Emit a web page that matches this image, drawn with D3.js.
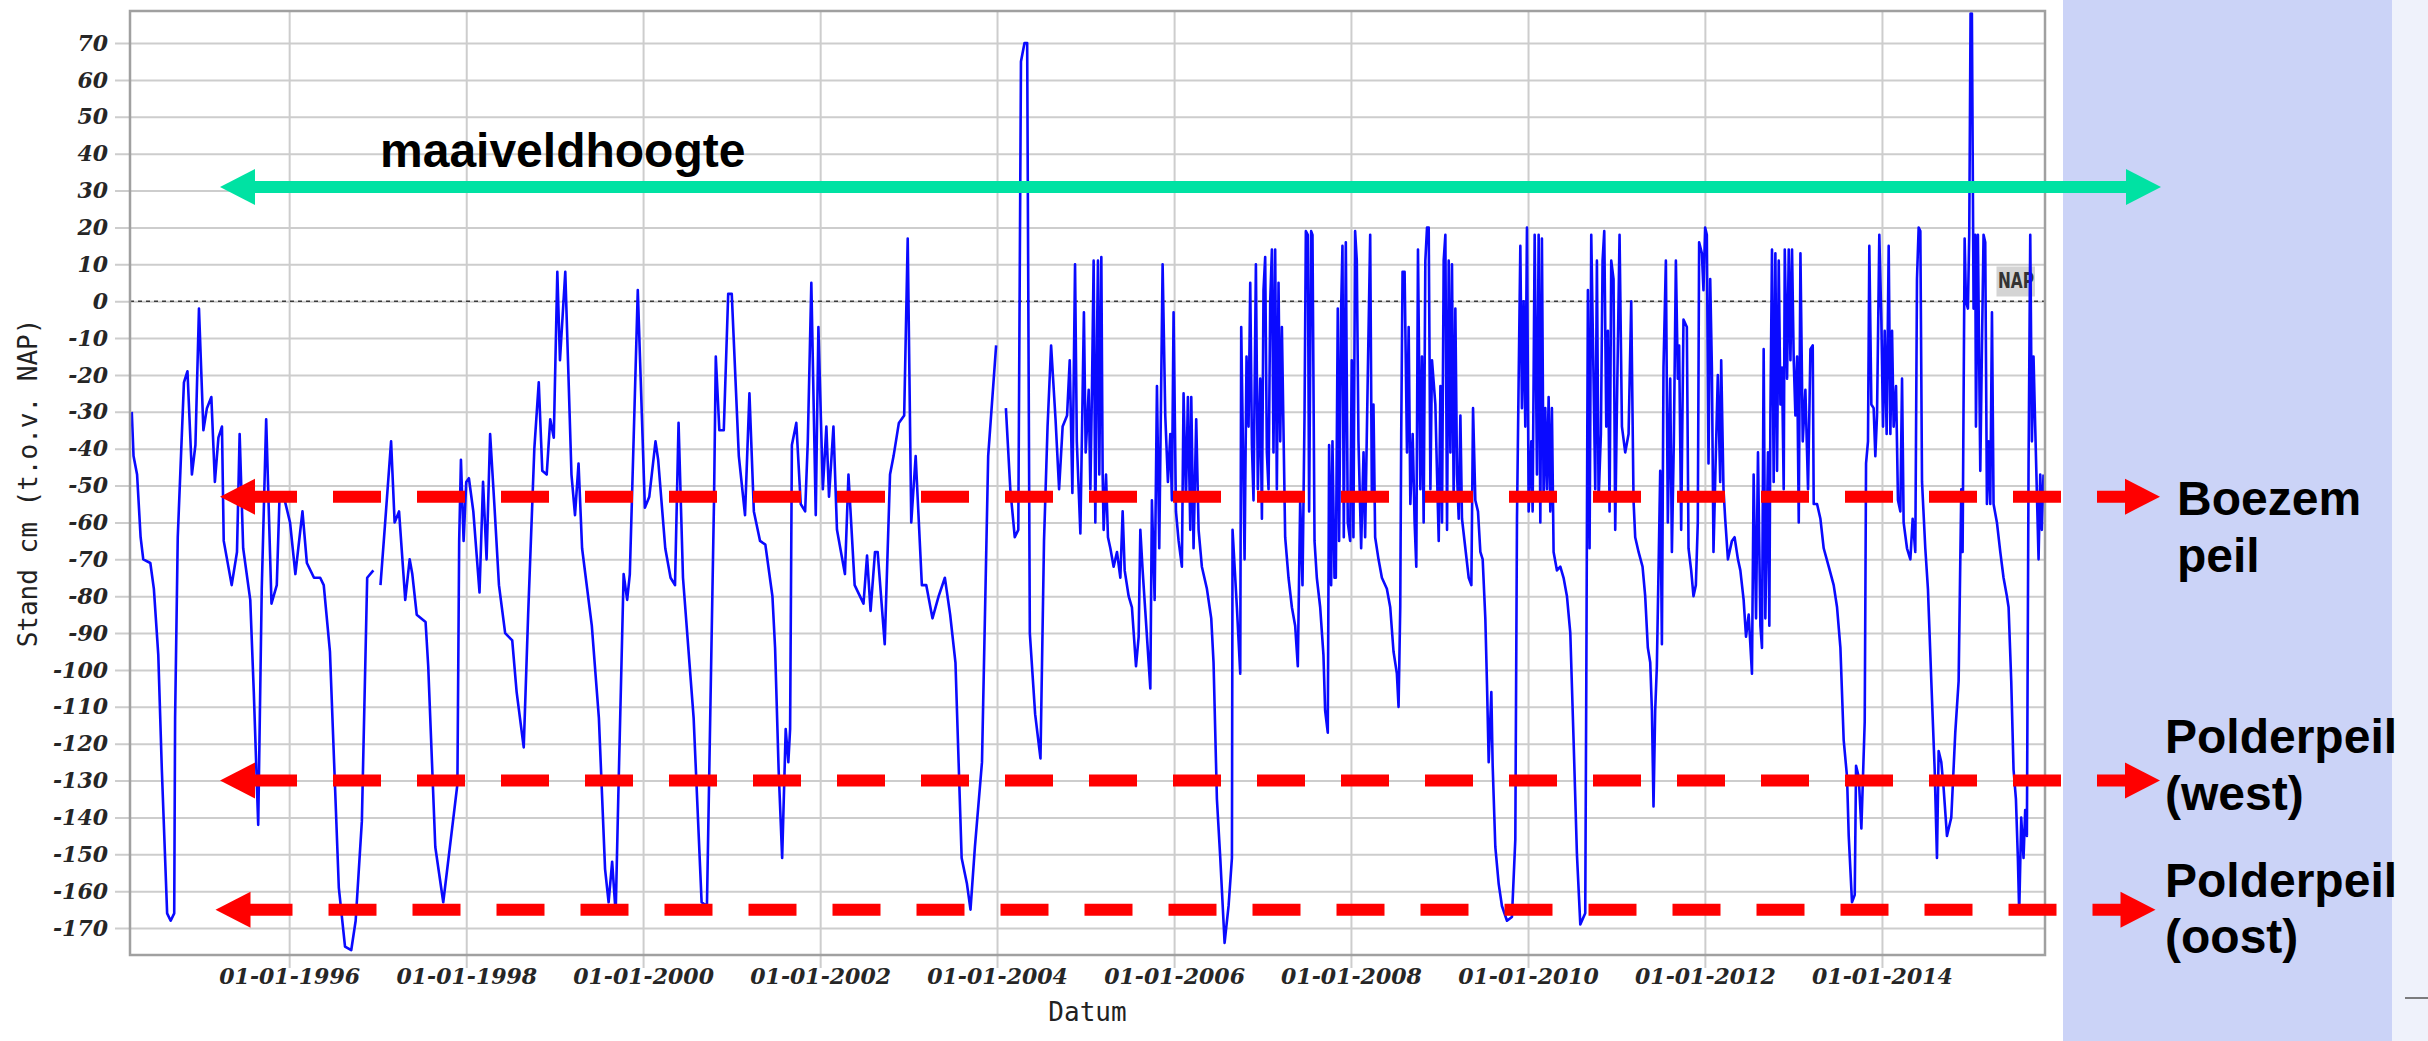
<!DOCTYPE html>
<html>
<head>
<meta charset="utf-8">
<title>Stand cm (t.o.v. NAP)</title>
<script src="https://cdn.jsdelivr.net/npm/d3@7"></script>
<style>
  html, body { margin: 0; padding: 0; background: #ffffff; }
  svg { display: block; }
</style>
</head>
<body>
<svg id="chart" width="2428" height="1041"></svg>
<script>
// Measurement moments as decimal years, and the measured level (cm t.o.v. NAP).
// A null level marks a gap in the record.
const years = [
  1994.22,1994.24,1994.28,1994.32,1994.35,1994.43,1994.47,1994.52,1994.56,1994.62,
  1994.66,1994.70,1994.71,1994.74,1994.77,1994.81,1994.85,1994.90,1994.94,1994.98,
  1995.03,1995.07,1995.12,1995.16,1995.20,1995.24,1995.26,1995.35,1995.41,1995.44,
  1995.48,1995.56,1995.60,1995.65,1995.69,1995.74,1995.80,1995.86,1995.89,1995.95,
  1996.01,1996.07,1996.15,1996.20,1996.28,1996.35,1996.39,1996.46,1996.56,1996.63,
  1996.70,1996.75,1996.82,1996.88,1996.95,1996.99,1997.03,1997.08,1997.15,1997.19,
  1997.24,1997.31,1997.36,1997.39,1997.44,1997.54,1997.57,1997.65,1997.74,1997.83,
  1997.90,1997.92,1997.94,1997.97,1998.00,1998.03,1998.08,1998.15,1998.19,1998.23,
  1998.27,1998.32,1998.37,1998.44,1998.52,1998.57,1998.65,1998.70,1998.77,1998.82,
  1998.86,1998.91,1998.95,1998.99,1999.03,1999.06,1999.12,1999.19,1999.23,1999.27,
  1999.31,1999.42,1999.50,1999.57,1999.61,1999.65,1999.69,1999.72,1999.78,1999.82,
  1999.85,1999.89,1999.94,2000.02,2000.07,2000.14,2000.17,2000.25,2000.31,2000.36,
  2000.40,2000.45,2000.57,2000.66,2000.72,2000.80,2000.82,2000.86,2000.91,2000.96,
  2001.00,2001.08,2001.15,2001.20,2001.25,2001.32,2001.38,2001.46,2001.49,2001.53,
  2001.57,2001.60,2001.61,2001.64,2001.66,2001.68,2001.73,2001.78,2001.83,2001.86,
  2001.90,2001.95,2001.98,2002.03,2002.07,2002.10,2002.15,2002.19,2002.28,2002.32,
  2002.39,2002.49,2002.53,2002.57,2002.62,2002.65,2002.73,2002.79,2002.83,2002.89,
  2002.95,2002.99,2003.03,2003.08,2003.15,2003.20,2003.27,2003.34,2003.41,2003.47,
  2003.53,2003.60,2003.66,2003.70,2003.75,2003.83,2003.90,2003.99,2004.05,2004.10,
  2004.15,2004.20,2004.24,2004.27,2004.31,2004.34,2004.37,2004.43,2004.49,2004.53,
  2004.57,2004.61,2004.66,2004.70,2004.74,2004.79,2004.82,2004.85,2004.88,2004.90,
  2004.94,2004.98,2005.00,2005.015,2005.034,2005.053,2005.071,2005.090,2005.109,2005.128,
  2005.139,2005.154,2005.177,2005.192,2005.203,2005.230,2005.252,2005.279,2005.316,2005.354,
  2005.392,2005.418,2005.441,2005.486,2005.523,2005.569,2005.599,2005.618,2005.644,2005.674,
  2005.731,2005.749,2005.780,2005.806,2005.832,2005.870,2005.900,2005.930,2005.957,2005.975,
  2005.994,2006.021,2006.051,2006.088,2006.107,2006.134,2006.156,2006.183,2006.194,2006.220,
  2006.250,2006.277,2006.314,2006.371,2006.420,2006.446,2006.484,2006.522,2006.571,2006.616,
  2006.654,2006.661,2006.710,2006.748,2006.759,2006.797,2006.819,2006.842,2006.861,2006.880,
  2006.898,2006.925,2006.947,2006.974,2006.993,2007.011,2007.030,2007.049,2007.068,2007.087,
  2007.106,2007.124,2007.143,2007.162,2007.181,2007.200,2007.219,2007.256,2007.294,2007.332,
  2007.369,2007.399,2007.426,2007.452,2007.475,2007.490,2007.512,2007.527,2007.550,2007.565,
  2007.588,2007.614,2007.652,2007.689,2007.708,2007.738,2007.753,2007.776,2007.791,2007.814,
  2007.829,2007.851,2007.866,2007.889,2007.904,2007.919,2007.942,2007.964,2007.991,2008.009,
  2008.028,2008.047,2008.066,2008.085,2008.115,2008.142,2008.160,2008.190,2008.217,2008.236,
  2008.254,2008.273,2008.311,2008.349,2008.405,2008.443,2008.480,2008.518,2008.537,2008.556,
  2008.567,2008.582,2008.605,2008.632,2008.651,2008.670,2008.696,2008.718,2008.737,2008.756,
  2008.783,2008.801,2008.820,2008.839,2008.858,2008.877,2008.896,2008.914,2008.952,2008.971,
  2008.990,2009.009,2009.027,2009.046,2009.065,2009.084,2009.103,2009.122,2009.140,2009.159,
  2009.178,2009.197,2009.216,2009.235,2009.253,2009.291,2009.329,2009.359,2009.378,2009.404,
  2009.434,2009.461,2009.487,2009.517,2009.536,2009.555,2009.585,2009.600,2009.630,2009.668,
  2009.705,2009.762,2009.818,2009.856,2009.875,2009.894,2009.913,2009.931,2009.950,2009.969,
  2009.988,2010.007,2010.037,2010.052,2010.075,2010.101,2010.120,2010.139,2010.157,2010.176,
  2010.195,2010.214,2010.233,2010.252,2010.270,2010.289,2010.327,2010.365,2010.402,2010.440,
  2010.478,2010.515,2010.553,2010.591,2010.647,2010.659,2010.670,2010.677,2010.696,2010.715,
  2010.741,2010.760,2010.779,2010.798,2010.824,2010.843,2010.862,2010.885,2010.903,2010.922,
  2010.941,2010.967,2010.986,2011.005,2011.035,2011.062,2011.099,2011.137,2011.167,2011.193,
  2011.212,2011.250,2011.295,2011.325,2011.355,2011.382,2011.401,2011.419,2011.438,2011.457,
  2011.495,2011.514,2011.532,2011.559,2011.581,2011.608,2011.627,2011.649,2011.672,2011.694,
  2011.709,2011.732,2011.758,2011.796,2011.815,2011.845,2011.871,2011.898,2011.920,2011.935,
  2011.966,2011.984,2012.003,2012.022,2012.041,2012.060,2012.079,2012.097,2012.124,2012.146,
  2012.173,2012.184,2012.210,2012.229,2012.260,2012.305,2012.335,2012.373,2012.400,2012.437,
  2012.464,2012.494,2012.531,2012.550,2012.577,2012.599,2012.626,2012.644,2012.663,2012.682,
  2012.712,2012.727,2012.739,2012.757,2012.776,2012.795,2012.814,2012.833,2012.852,2012.870,
  2012.889,2012.901,2012.927,2012.946,2012.965,2012.983,2013.002,2013.021,2013.040,2013.059,
  2013.078,2013.104,2013.134,2013.164,2013.191,2013.217,2013.228,2013.266,2013.304,2013.341,
  2013.398,2013.454,2013.492,2013.530,2013.567,2013.605,2013.624,2013.661,2013.692,2013.707,
  2013.737,2013.767,2013.805,2013.820,2013.842,2013.857,2013.880,2013.906,2013.925,2013.944,
  2013.970,2013.993,2014.012,2014.031,2014.053,2014.076,2014.095,2014.114,2014.132,2014.159,
  2014.181,2014.208,2014.227,2014.245,2014.283,2014.321,2014.347,2014.377,2014.396,2014.415,
  2014.434,2014.453,2014.490,2014.520,2014.558,2014.596,2014.622,2014.641,2014.671,2014.697,
  2014.735,2014.784,2014.829,2014.867,2014.897,2014.912,2014.935,2014.950,2014.972,2014.987,
  2015.002,2015.017,2015.036,2015.055,2015.063,2015.085,2015.112,2015.131,2015.149,2015.168,
  2015.187,2015.206,2015.225,2015.244,2015.262,2015.300,2015.338,2015.375,2015.413,2015.432,
  2015.462,2015.488,2015.515,2015.537,2015.552,2015.575,2015.601,2015.620,2015.639,2015.658,
  2015.677,2015.696,2015.714,2015.733,2015.771,2015.790,2015.808,2015.827
];

const levels = [
  -30,-42,-47,-64,-70,-71,-78,-96,-127,-166,
  -168,-166,-113,-64,-46,-22,-19,-47,-39,-2,
  -35,-29,-26,-49,-37,-34,-65,-77,-68,-36,
  -67,-81,-106,-142,-78,-32,-82,-77,-54,-54,
  -60,-74,-57,-71,-75,-75,-77,-95,-159,-175,
  -176,-168,-141,-75,-73,null,-77,-61,-38,-60,
  -57,-81,-70,-74,-85,-87,-99,-148,-163,-145,
  -131,-65,-43,-65,-49,-48,-57,-79,-49,-70,
  -36,-56,-77,-90,-92,-106,-121,-85,-40,-22,
  -46,-47,-32,-37,8,-16,8,-47,-58,-44,
  -67,-88,-113,-154,-163,-152,-166,-134,-74,-81,
  -74,-40,3,-56,-53,-38,-43,-67,-75,-77,
  -33,-75,-113,-163,-164,-54,-15,-35,-35,2,
  2,-42,-58,-25,-57,-65,-66,-80,-94,-127,
  -151,-125,-116,-125,-116,-39,-33,-55,-57,-38,
  5,-58,-7,-51,-34,-53,-34,-62,-74,-47,
  -77,-82,-69,-84,-68,-68,-93,-47,-42,-33,
  -31,17,-60,-42,-77,-77,-86,-80,-75,-85,
  -98,-151,-158,-165,-148,-125,-42,-12,null,-29,
  -51,-64,-62,65,70,70,-90,-112,-124,-65,
  -34,-12,-32,-51,-34,-31,-16,-52,10,-38,
  -63,-3,-41,-34,-24,-51,-24,11,-60,-10,
  11,-47,12,-47,-62,-47,-64,-67,-72,-68,
  -75,-57,-73,-80,-83,-99,-91,-62,-73,-84,
  -105,-54,-81,-23,-67,10,-31,-49,-36,-54,
  -3,-57,-65,-72,-25,-54,-26,-62,-26,-67,
  -32,-62,-72,-78,-86,-98,-135,-151,-174,-164,
  -151,-62,-83,-101,-7,-70,-15,-34,5,-39,
  -54,10,-51,-21,-59,3,12,-41,-51,0,
  14,-41,14,-51,5,-38,-7,-64,-75,-83,
  -88,-99,-54,-77,-31,19,18,-57,19,18,
  -65,-75,-83,-96,-111,-117,-39,-77,-38,-75,
  -75,-2,-65,-2,15,-64,16,-60,-65,-16,
  -64,19,11,-38,-67,-41,-64,-20,18,-54,
  -28,-64,-70,-75,-78,-83,-95,-101,-110,-83,
  -36,8,8,-41,-7,-55,-36,-60,-72,14,
  -51,-15,-60,11,20,20,-51,-16,-28,-47,
  -65,-23,-60,11,18,-62,11,-41,10,-54,
  -2,-47,-59,-31,-59,-67,-75,-77,-29,-54,
  -57,-68,-70,-86,-104,-125,-106,-126,-148,-158,
  -164,-168,-167,-146,-59,-21,15,-29,0,-34,
  20,-57,-38,-57,18,-47,18,-60,17,-54,
  -29,-51,-26,-57,-29,-68,-73,-72,-75,-80,
  -90,-119,-150,-169,-166,-103,-37,3,-67,18,
  -21,-51,11,-54,-36,11,19,-34,-8,-57,
  11,6,-62,-29,18,-34,-41,-36,0,-54,
  -64,-68,-72,-80,-94,-98,-111,-137,-111,-99,
  -46,-93,-18,11,-60,-21,-68,-38,11,-21,
  -12,-62,-5,-7,-67,-73,-80,-77,-60,16,
  13,3,20,18,-44,6,-18,-68,-41,-20,
  -49,-16,-51,-59,-70,-65,-64,-70,-73,-81,
  -91,-85,-101,-47,-86,-41,-88,-94,-13,-86,
  -41,-88,-31,14,-49,13,-46,11,-28,-18,
  -51,14,-21,14,-16,14,-16,-31,-15,-60,
  13,-38,-24,-51,-13,-12,-55,-55,-59,-67,
  -72,-77,-83,-94,-119,-129,-145,-163,-161,-126,
  -129,-143,-114,-44,-38,15,-28,-29,-42,-31,
  18,-5,-34,-8,-36,15,-36,-8,-34,-23,
  -54,-57,-21,-60,-67,-70,-59,-68,6,20,
  19,-49,-67,-78,-103,-127,-151,-122,-125,-132,
  -145,-140,-117,-103,-51,-68,17,0,-2,18,
  78,78,-2,18,-34,18,-46,-12,18,16,
  -55,-38,-55,-3,-55,-60,-68,-75,-80,-83,
  -103,-127,-135,-151,-166,-140,-151,-138,-145,-44,
  18,-38,-15,-34,-70,-47,-62,-47
];

// Axis extents and ticks
const dateExtent = ["1994-03-15", "2015-11-05"];
const levelExtent = [-177.3, 78.7];
const levelTicks = [70, 60, 50, 40, 30, 20, 10, 0, -10, -20, -30, -40, -50, -60,
                    -70, -80, -90, -100, -110, -120, -130, -140, -150, -160, -170];
const dateTicks = ["1996-01-01", "1998-01-01", "2000-01-01", "2002-01-01", "2004-01-01",
                   "2006-01-01", "2008-01-01", "2010-01-01", "2012-01-01", "2014-01-01"];

// Reference levels drawn as arrows
const groundLevel = 31;
const groundLabel = "maaiveldhoogte";
const peilValues = [-53, -130, -165];
const peilLabels = [["Boezem", "peil"], ["Polderpeil", "(west)"], ["Polderpeil", "(oost)"]];

const xTitle = "Datum";
const yTitle = "Stand cm (t.o.v. NAP)";
const zeroLabel = "NAP";

// ---------------------------------------------------------------------------
const W = 2428, H = 1041;
const plot = { left: 130, right: 2045, top: 11, bottom: 955 };

const parseDay = d3.utcParse("%Y-%m-%d");
function fromDecimalYear(v) {
  const yr = Math.floor(v);
  const a = Date.UTC(yr, 0, 1), b = Date.UTC(yr + 1, 0, 1);
  return new Date(a + (v - yr) * (b - a));
}

const series = years.map((t, i) => ({ date: fromDecimalYear(t), level: levels[i] }));

const x = d3.scaleUtc().domain(dateExtent.map(parseDay)).range([plot.left, plot.right]);
const y = d3.scaleLinear().domain(levelExtent).range([plot.bottom, plot.top]);

const svg = d3.select("#chart");

svg.append("rect").attr("x", 0).attr("y", 0).attr("width", W).attr("height", H).attr("fill", "#ffffff");

// Side panel
svg.append("rect").attr("x", 2063).attr("y", 0).attr("width", 329).attr("height", H).attr("fill", "#cbd3f7");
svg.append("rect").attr("x", 2392).attr("y", 0).attr("width", W - 2392).attr("height", H).attr("fill", "#eff2fb");
svg.append("line").attr("x1", 2405).attr("x2", W).attr("y1", 998).attr("y2", 998)
  .attr("stroke", "#555").attr("stroke-width", 1.5);

const tickFont = g => g.selectAll("text")
  .attr("font-family", "'DejaVu Serif', serif")
  .attr("font-weight", "bold")
  .attr("font-style", "italic")
  .attr("font-size", 22)
  .attr("fill", "#262626");

// Horizontal grid + level labels
const yAxisG = svg.append("g")
  .attr("transform", `translate(115,0)`)
  .call(d3.axisLeft(y)
    .tickValues(levelTicks)
    .tickSizeInner(-(plot.right - 115))
    .tickSizeOuter(0)
    .tickPadding(7)
    .tickFormat(d => String(d)));
yAxisG.select(".domain").remove();
yAxisG.selectAll("line").attr("stroke", "#cdcdcd").attr("stroke-width", 2);
yAxisG.call(tickFont);

// Vertical grid + date labels
const xAxisG = svg.append("g")
  .attr("transform", `translate(0,968)`)
  .call(d3.axisBottom(x)
    .tickValues(dateTicks.map(parseDay))
    .tickSizeInner(-(968 - plot.top))
    .tickSizeOuter(0)
    .tickPadding(0)
    .tickFormat(d3.utcFormat("%d-%m-%Y")));
xAxisG.select(".domain").remove();
xAxisG.selectAll("line").attr("stroke", "#cdcdcd").attr("stroke-width", 2);
xAxisG.call(tickFont);

// NAP marker line
svg.append("line")
  .attr("x1", plot.left).attr("x2", plot.right)
  .attr("y1", y(0)).attr("y2", y(0))
  .attr("stroke", "#3a3a3a").attr("stroke-width", 1.6).attr("stroke-dasharray", "4,4");

// NAP tag
svg.append("rect").attr("x", 1996.5).attr("y", 266.5).attr("width", 38.5).attr("height", 30)
  .attr("fill", "#d4d4d4");
svg.append("text").attr("x", 1998).attr("y", 288)
  .attr("font-family", "'DejaVu Sans', sans-serif").attr("font-weight", "bold")
  .attr("font-size", 21).attr("fill", "#333")
  .attr("textLength", 36).attr("lengthAdjust", "spacingAndGlyphs")
  .text(zeroLabel);

// Water level series
svg.append("clipPath").attr("id", "plotClip")
  .append("rect").attr("x", plot.left).attr("y", plot.top)
  .attr("width", plot.right - plot.left).attr("height", plot.bottom - plot.top);

const line = d3.line()
  .defined(d => d.level != null)
  .x(d => x(d.date))
  .y(d => y(d.level));

svg.append("path")
  .datum(series)
  .attr("clip-path", "url(#plotClip)")
  .attr("fill", "none")
  .attr("stroke", "#0a0aff")
  .attr("stroke-width", 2.6)
  .attr("stroke-linejoin", "round")
  .attr("d", line);

// Plot frame
svg.append("rect")
  .attr("x", plot.left).attr("y", plot.top)
  .attr("width", plot.right - plot.left).attr("height", plot.bottom - plot.top)
  .attr("fill", "none").attr("stroke", "#a0a0a0").attr("stroke-width", 2.5);

// Axis titles
svg.append("text")
  .attr("x", (plot.left + plot.right) / 2).attr("y", 1021)
  .attr("text-anchor", "middle")
  .attr("font-family", "'DejaVu Sans Mono', monospace").attr("font-size", 26).attr("fill", "#222")
  .text(xTitle);
svg.append("text")
  .attr("transform", `translate(37,${(plot.top + plot.bottom) / 2}) rotate(-90)`)
  .attr("text-anchor", "middle")
  .attr("font-family", "'DejaVu Sans Mono', monospace").attr("font-size", 26).attr("fill", "#222")
  .text(yTitle);

// Double-headed arrows for the reference levels
const HEAD_LEN = 35, HEAD_HALF = 18;
function arrowHeads(g, yy, tipL, tipR, color) {
  g.append("path")
    .attr("d", `M${tipL},${yy}L${tipL + HEAD_LEN},${yy - HEAD_HALF}L${tipL + HEAD_LEN},${yy + HEAD_HALF}Z`)
    .attr("fill", color);
  g.append("path")
    .attr("d", `M${tipR},${yy}L${tipR - HEAD_LEN},${yy - HEAD_HALF}L${tipR - HEAD_LEN},${yy + HEAD_HALF}Z`)
    .attr("fill", color);
}

const ann = svg.append("g");

// Ground level
const gy = y(groundLevel);
ann.append("line").attr("x1", 250).attr("x2", 2131).attr("y1", gy).attr("y2", gy)
  .attr("stroke", "#00e2a3").attr("stroke-width", 12);
arrowHeads(ann, gy, 220, 2161, "#00e2a3");

// Boezem / polder levels
const peilShift = [0, 0, -4.5];
peilValues.forEach((v, i) => {
  const py = y(v), s = peilShift[i];
  ann.append("line")
    .attr("x1", 249 + s).attr("x2", 2145 + s).attr("y1", py).attr("y2", py)
    .attr("stroke", "#ff0000").attr("stroke-width", 12).attr("stroke-dasharray", "48 36");
  arrowHeads(ann, py, 220 + s, 2160 + s, "#ff0000");
});

// Labels
const labelFont = t => t
  .attr("font-family", "'Liberation Sans', Arial, Helvetica, sans-serif")
  .attr("font-weight", "bold").attr("font-size", 48).attr("fill", "#000");

ann.append("text").attr("x", 380).attr("y", 167).call(labelFont).text(groundLabel);

const labelPos = [
  { x: 2177, y: [515, 572] },
  { x: 2165, y: [753, 810] },
  { x: 2165, y: [897, 953] }
];
peilLabels.forEach((lines, i) => {
  lines.forEach((s, j) => {
    ann.append("text").attr("x", labelPos[i].x).attr("y", labelPos[i].y[j]).call(labelFont).text(s);
  });
});
</script>
</body>
</html>
